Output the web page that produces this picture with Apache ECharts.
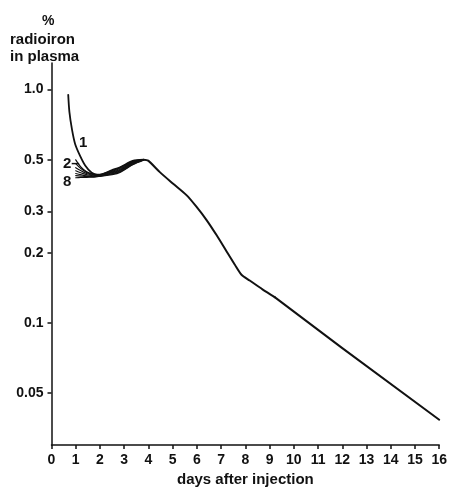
<!DOCTYPE html>
<html><head><meta charset="utf-8">
<script src="https://cdn.jsdelivr.net/npm/echarts@6/dist/echarts.min.js"></script>
<style>html,body{margin:0;padding:0;background:#fff}#c{width:450px;height:492px}</style>
</head><body><div id="c"></div>
<script>
// x: days after injection, y: % radioiron in plasma (log scale)
const xTicks = [0,1,2,3,4,5,6,7,8,9,10,11,12,13,14,15,16];
const yTicks = [0.05, 0.1, 0.2, 0.3, 0.5, 1.0];
const yTickLabels = ['0.05','0.1','0.2','0.3','0.5','1.0'];

const days1 = [0.69, 0.74, 0.84, 0.975, 1.18, 1.39, 1.66, 1.93, 2.5, 2.85, 3.35, 3.8];
const vals1 = [0.95, 0.80, 0.68, 0.585, 0.52, 0.473, 0.44, 0.43, 0.452, 0.466, 0.495, 0.501];

const daysB = [1.0, 1.2, 1.45, 1.75, 2.0, 2.5, 2.85, 3.35, 3.8];
const vals2 = [0.50, 0.468, 0.445, 0.434, 0.433, 0.450, 0.464, 0.493, 0.501];
const vals3 = [0.482, 0.460, 0.442, 0.432, 0.431, 0.446, 0.460, 0.490, 0.501];
const vals4 = [0.463, 0.450, 0.437, 0.430, 0.430, 0.443, 0.456, 0.487, 0.500];
const vals5 = [0.449, 0.440, 0.432, 0.427, 0.428, 0.440, 0.452, 0.484, 0.500];
const vals6 = [0.437, 0.432, 0.427, 0.425, 0.427, 0.437, 0.449, 0.481, 0.499];
const vals7 = [0.428, 0.426, 0.424, 0.424, 0.426, 0.435, 0.446, 0.478, 0.499];
const vals8 = [0.419, 0.420, 0.421, 0.422, 0.425, 0.432, 0.443, 0.476, 0.498];

// curved descent after the peak, then the straight exponential tail
const daysTail = [3.8, 3.99, 4.47, 5.02, 5.57, 5.98, 6.40, 6.81, 7.22, 7.56, 7.84, 8.18, 8.72, 9.21];
const valsTail = [0.501, 0.496, 0.443, 0.395, 0.353, 0.315, 0.276, 0.238, 0.203, 0.178, 0.161, 0.152, 0.139, 0.129];
const daysLine = [9.21, 12.0, 16.0];
const valsLine = [0.129, 0.078, 0.0385];

const FONT = 'Liberation Sans';
const pair = (xs, ys) => xs.map((x, i) => [x, ys[i]]);
const line = (data, w, sm) => ({
  type: 'line', data, symbol: 'none', smooth: sm,
  lineStyle: { color: '#111', width: w, cap: 'round', join: 'round' }, z: 3, silent: true
});

const chart = echarts.init(document.getElementById('c'), null, { renderer: 'canvas' });
chart.setOption({
  backgroundColor: '#fff',
  animation: false,
  grid: { left: 51.5, right: 10, top: 63, bottom: 43 },
  xAxis: {
    type: 'value', min: 0, max: 16, interval: 1,
    name: 'days after injection', nameLocation: 'middle', nameGap: 27,
    nameTextStyle: { fontFamily: FONT, fontWeight: 'bold', fontSize: 15, color: '#111' },
    axisLine: { show: true, onZero: false, lineStyle: { color: '#111', width: 1.5 } },
    axisTick: { show: true, inside: false, length: 4, lineStyle: { color: '#111', width: 1.5 } },
    axisLabel: { margin: 8, fontFamily: FONT, fontWeight: 'bold', fontSize: 14, color: '#111',
      formatter: v => String(v) },
    splitLine: { show: false }
  },
  yAxis: {
    type: 'log', min: 0.03, max: 1.3, logBase: 10,
    axisLine: { show: true, lineStyle: { color: '#111', width: 1.5 } },
    axisTick: { show: true, inside: false, length: 4, customValues: yTicks, lineStyle: { color: '#111', width: 1.5 } },
    axisLabel: { margin: 8, fontFamily: FONT, fontWeight: 'bold', fontSize: 14, color: '#111',
      customValues: yTicks,
      formatter: v => { const i = yTicks.findIndex(t => Math.abs(t - v) < 1e-6); return i >= 0 ? yTickLabels[i] : ''; } },
    splitLine: { show: false }, minorTick: { show: false }
  },
  graphic: [
    { type: 'text', left: 42, top: 14, style: { text: '%', font: 'bold 14px ' + FONT, fill: '#111' } },
    { type: 'text', left: 10, top: 32, style: { text: 'radioiron', font: 'bold 15px ' + FONT, fill: '#111' } },
    { type: 'text', left: 10, top: 49, style: { text: 'in plasma', font: 'bold 15px ' + FONT, fill: '#111' } },
    { type: 'text', left: 79, top: 135, style: { text: '1', font: 'bold 15px ' + FONT, fill: '#111' } },
    { type: 'text', left: 63, top: 156, style: { text: '2–', font: 'bold 15px ' + FONT, fill: '#111' } },
    { type: 'text', left: 63, top: 174, style: { text: '8', font: 'bold 15px ' + FONT, fill: '#111' } }
  ],
  series: [
    line(pair(days1, vals1), 1.8, 0.3),
    line(pair(daysB, vals2), 1.2, 0.3),
    line(pair(daysB, vals3), 1.2, 0.3),
    line(pair(daysB, vals4), 1.2, 0.3),
    line(pair(daysB, vals5), 1.2, 0.3),
    line(pair(daysB, vals6), 1.2, 0.3),
    line(pair(daysB, vals7), 1.2, 0.3),
    line(pair(daysB, vals8), 1.2, 0.3),
    line(pair(daysTail, valsTail), 2, 0.25),
    line(pair(daysLine, valsLine), 2, false)
  ]
});
</script></body></html>
